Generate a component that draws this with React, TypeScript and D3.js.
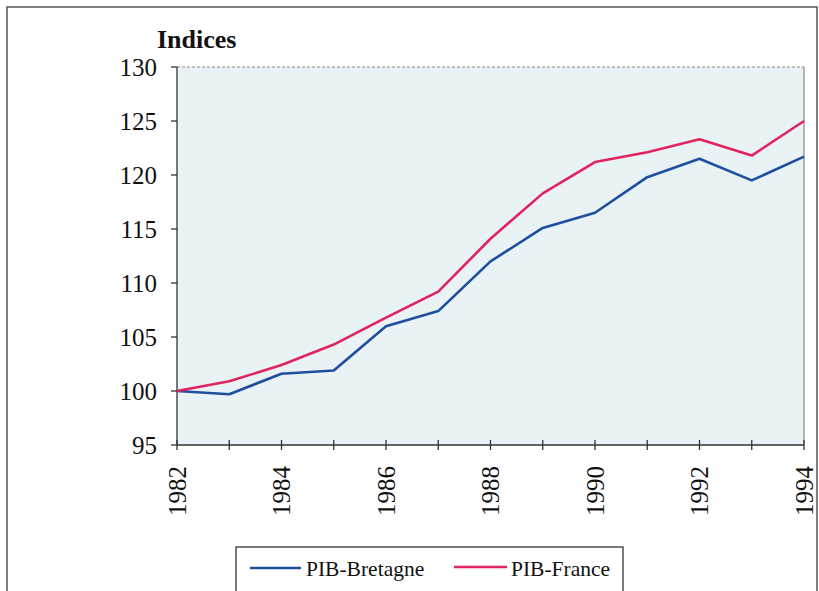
import React from 'react';
import * as d3 from 'd3';

const years = [1982, 1983, 1984, 1985, 1986, 1987, 1988, 1989, 1990, 1991, 1992, 1993, 1994];
const bretagne = [100, 99.7, 101.6, 101.9, 106, 107.4, 112, 115.1, 116.5, 119.8, 121.5, 119.5, 121.7];
const france = [100, 100.9, 102.4, 104.3, 106.8, 109.2, 114.1, 118.3, 121.2, 122.1, 123.3, 121.8, 125];
const yTicks = [95, 100, 105, 110, 115, 120, 125, 130];
const xLabels = [1982, 1984, 1986, 1988, 1990, 1992, 1994];

export default function App() {
  const W = 819;
  const H = 591;
  const left = 177, right = 804, top = 67, bottom = 445;
  const font = 'Liberation Serif, DejaVu Serif, serif';

  const x = d3.scaleLinear().domain([1982, 1994]).range([left, right]);
  const y = d3.scaleLinear().domain([95, 130]).range([bottom, top]);

  const line = d3.line<number>()
    .x((d, i) => x(years[i]))
    .y(d => y(d));

  const series = [
    { name: 'PIB-Bretagne', values: bretagne, color: '#1e4f9e' },
    { name: 'PIB-France', values: france, color: '#e0245e' },
  ];

  const txt = { fontFamily: font, fill: '#111' } as React.CSSProperties;

  return (
    <svg width={W} height={H} style={{ position: 'absolute', left: 0, top: 0, background: '#fff' }}>
      <rect x={7} y={7} width={W - 9} height={H} fill="none" stroke="#555" strokeWidth={1.5} />
      <rect x={left} y={top} width={right - left} height={bottom - top} fill="#e9f2f4" />
      <line x1={left} x2={right} y1={top} y2={top} stroke="#888" strokeWidth={1} strokeDasharray="3,2" />
      <line x1={right} x2={right} y1={top} y2={bottom} stroke="#888" strokeWidth={1.2} />
      <text x={157} y={48} style={txt} fontWeight="bold" fontSize={26}>Indices</text>
      {/* y axis */}
      <line x1={left} x2={left} y1={top} y2={bottom} stroke="#333" strokeWidth={1.3} />
      {yTicks.map(t => (
        <g key={t}>
          <line x1={left - 6} x2={left} y1={y(t)} y2={y(t)} stroke="#333" strokeWidth={1.3} />
          <text x={157} y={y(t)} dy="0.35em" textAnchor="end" style={txt} fontSize={25}>{t}</text>
        </g>
      ))}
      {/* x axis */}
      <line x1={left} x2={right} y1={bottom} y2={bottom} stroke="#333" strokeWidth={1.3} />
      {years.map(yr => (
        <line key={yr} x1={x(yr)} x2={x(yr)} y1={bottom - 5} y2={bottom + 5} stroke="#333" strokeWidth={1.3} />
      ))}
      {xLabels.map(yr => (
        <text key={yr} transform={`translate(${x(yr)},${516}) rotate(-90)`} dy="0.35em"
          style={txt} fontSize={25}>{yr}</text>
      ))}
      {series.map(s => (
        <path key={s.name} d={line(s.values) || ''} fill="none" stroke={s.color} strokeWidth={2.6} strokeLinejoin="round" />
      ))}
      {/* legend */}
      <rect x={236} y={547} width={387} height={60} fill="#fff" stroke="#333" strokeWidth={1.3} />
      <line x1={250} x2={301} y1={568} y2={568} stroke={series[0].color} strokeWidth={2.6} />
      <text x={306} y={576} style={txt} fontSize={21.5}>{series[0].name}</text>
      <line x1={454} x2={507} y1={567} y2={567} stroke={series[1].color} strokeWidth={2.6} />
      <text x={511} y={576} style={txt} fontSize={21.5}>{series[1].name}</text>
    </svg>
  );
}
